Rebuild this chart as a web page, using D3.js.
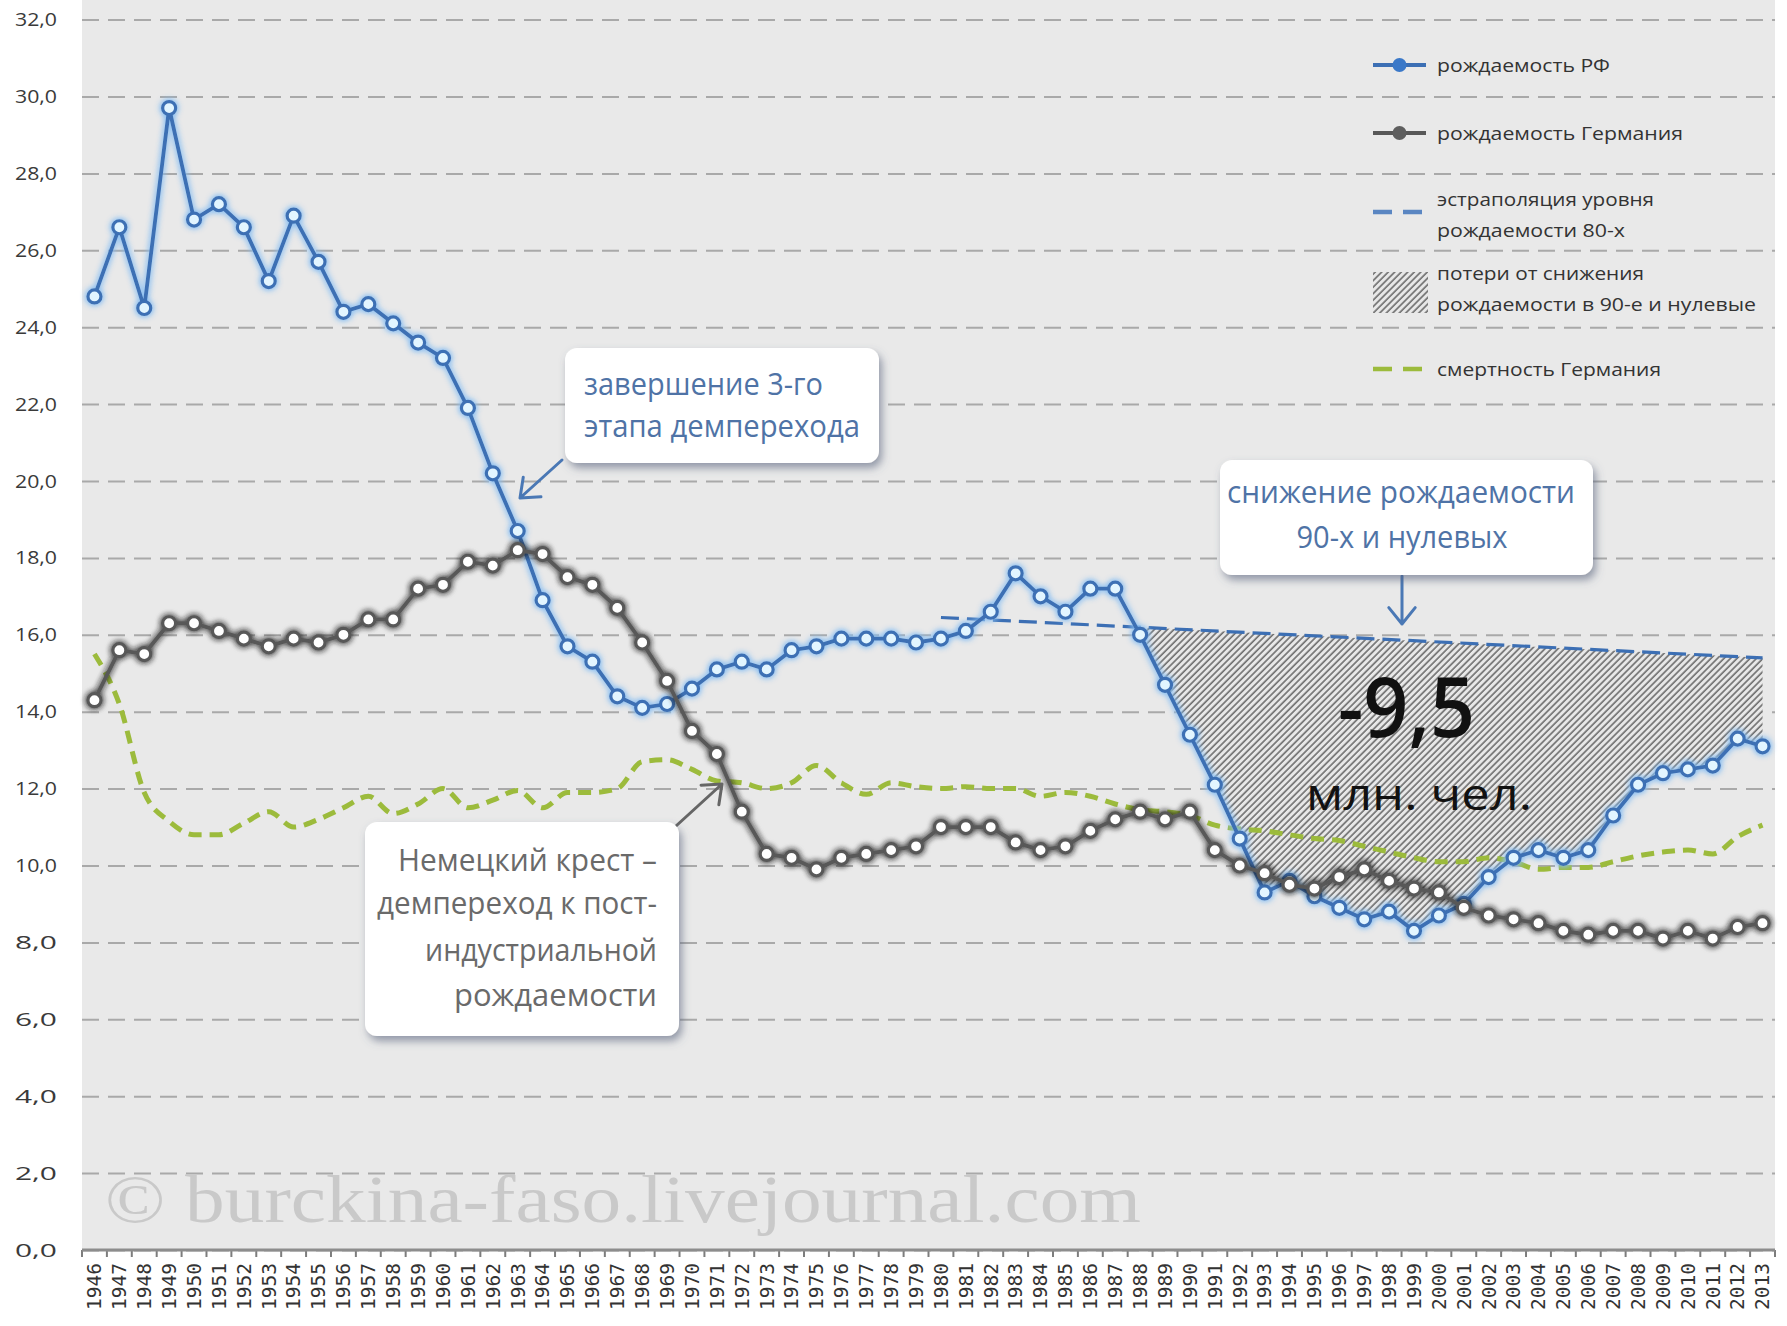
<!DOCTYPE html>
<html>
<head>
<meta charset="utf-8">
<script src="https://cdn.jsdelivr.net/npm/d3@7"></script>
<style>
  body { margin: 0; background: #fff; }
  svg { display: block; }
  text { font-family: "Open Sans", "Noto Sans", sans-serif; }
</style>
</head>
<body>
<div id="chart"></div>
<script>
const width = 1787;
const height = 1326;
const plotLeft = 82, plotRight = 1775, plotBottom = 1250, plotTop = 0;

// years on the x axis
const years = [1946, 1947, 1948, 1949, 1950, 1951, 1952, 1953, 1954, 1955,
  1956, 1957, 1958, 1959, 1960, 1961, 1962, 1963, 1964, 1965,
  1966, 1967, 1968, 1969, 1970, 1971, 1972, 1973, 1974, 1975,
  1976, 1977, 1978, 1979, 1980, 1981, 1982, 1983, 1984, 1985,
  1986, 1987, 1988, 1989, 1990, 1991, 1992, 1993, 1994, 1995,
  1996, 1997, 1998, 1999, 2000, 2001, 2002, 2003, 2004, 2005,
  2006, 2007, 2008, 2009, 2010, 2011, 2012, 2013];

// рождаемость РФ, per 1000
const birthRU = [24.8, 26.6, 24.5, 29.7, 26.8, 27.2, 26.6, 25.2, 26.9, 25.7,
  24.4, 24.6, 24.1, 23.6, 23.2, 21.9, 20.2, 18.7, 16.9, 15.7,
  15.3, 14.4, 14.1, 14.2, 14.6, 15.1, 15.3, 15.1, 15.6, 15.7,
  15.9, 15.9, 15.9, 15.8, 15.9, 16.1, 16.6, 17.6, 17.0, 16.6,
  17.2, 17.2, 16.0, 14.7, 13.4, 12.1, 10.7, 9.3, 9.6, 9.2,
  8.9, 8.6, 8.8, 8.3, 8.7, 9.0, 9.7, 10.2, 10.4, 10.2,
  10.4, 11.3, 12.1, 12.4, 12.5, 12.6, 13.3, 13.1];

// рождаемость Германия
const birthDE = [14.3, 15.6, 15.5, 16.3, 16.3, 16.1, 15.9, 15.7, 15.9, 15.8,
  16.0, 16.4, 16.4, 17.2, 17.3, 17.9, 17.8, 18.2, 18.1, 17.5,
  17.3, 16.7, 15.8, 14.8, 13.5, 12.9, 11.4, 10.3, 10.2, 9.9,
  10.2, 10.3, 10.4, 10.5, 11.0, 11.0, 11.0, 10.6, 10.4, 10.5,
  10.9, 11.2, 11.4, 11.2, 11.4, 10.4, 10.0, 9.8, 9.5, 9.4,
  9.7, 9.9, 9.6, 9.4, 9.3, 8.9, 8.7, 8.6, 8.5, 8.3,
  8.2, 8.3, 8.3, 8.1, 8.3, 8.1, 8.4, 8.5];

// смертность Германия
const deathDE = [15.5, 14.2, 11.9, 11.15, 10.8, 10.8, 11.1, 11.4, 11.0, 11.2,
  11.5, 11.8, 11.35, 11.6, 12.0, 11.5, 11.7, 11.95, 11.5, 11.9,
  11.9, 12.0, 12.7, 12.75, 12.5, 12.2, 12.15, 12.0, 12.15, 12.6,
  12.15, 11.85, 12.15, 12.05, 12.0, 12.05, 12.0, 12.0, 11.8, 11.9,
  11.8, 11.6, 11.45, 11.4, 11.3, 11.05, 10.95, 10.9, 10.8, 10.7,
  10.65, 10.5, 10.35, 10.2, 10.1, 10.1, 10.2, 10.1, 9.9, 9.95,
  9.95, 10.1, 10.25, 10.35, 10.4, 10.3, 10.75, 11.05];

// экстраполяция уровня рождаемости 80-х
const extrapYears = [1980, 2013];
const extrapValues = [16.45, 15.4];
const lossStartYear = 1988;

const yTicks = [0, 2, 4, 6, 8, 10, 12, 14, 16, 18, 20, 22, 24, 26, 28, 30, 32];

const blue = "#3c6fb4";
const gray = "#585858";
const green = "#9cbb3c";

const svg = d3.select("#chart").append("svg")
    .attr("width", width)
    .attr("height", height);

const defs = svg.append("defs");

function glow(id, color, std, opacity) {
    const f = defs.append("filter").attr("id", id)
        .attr("x", "-20%").attr("y", "-20%").attr("width", "140%").attr("height", "140%");
    f.append("feGaussianBlur").attr("in", "SourceAlpha").attr("stdDeviation", std).attr("result", "blur");
    f.append("feFlood").attr("flood-color", color).attr("flood-opacity", opacity);
    f.append("feComposite").attr("in2", "blur").attr("operator", "in").attr("result", "glow");
    const m = f.append("feMerge");
    m.append("feMergeNode").attr("in", "glow");
    m.append("feMergeNode").attr("in", "glow");
    m.append("feMergeNode").attr("in", "SourceGraphic");
}
glow("glowBlue", "#86bdf2", 3, 0.95);
glow("glowGray", "#222", 3, 0.7);

const shadow = defs.append("filter").attr("id", "boxShadow")
    .attr("x", "-10%").attr("y", "-10%").attr("width", "125%").attr("height", "130%");
shadow.append("feDropShadow").attr("dx", 3).attr("dy", 5).attr("stdDeviation", 4)
    .attr("flood-color", "#55607a").attr("flood-opacity", 0.6);

const hatch = defs.append("pattern").attr("id", "hatch")
    .attr("patternUnits", "userSpaceOnUse")
    .attr("width", 4.6).attr("height", 10)
    .attr("patternTransform", "rotate(45)");
hatch.append("rect").attr("width", 4.6).attr("height", 10).attr("fill", "#e8e8e8");
hatch.append("line").attr("x1", 1).attr("y1", 0).attr("x2", 1).attr("y2", 10)
    .attr("stroke", "#505050").attr("stroke-width", 1.3);

const x = d3.scaleBand().domain(years).range([plotLeft, plotRight]);
const cx = yr => x(yr) + x.bandwidth() / 2;
const y = d3.scaleLinear().domain([0, 32]).range([plotBottom, 19.6]);
const extrap = d3.scaleLinear().domain(extrapYears).range(extrapValues);

// plot background
svg.append("rect")
    .attr("x", plotLeft).attr("y", plotTop)
    .attr("width", plotRight - plotLeft).attr("height", plotBottom - plotTop)
    .attr("fill", "#e9e9e9");

// grid + y labels
const yAxis = svg.append("g")
    .attr("transform", `translate(${plotLeft},0)`)
    .call(d3.axisLeft(y).tickValues(yTicks)
        .tickSize(-(plotRight - plotLeft))
        .tickPadding(25)
        .tickFormat(d => d3.format(".1f")(d).replace(".", ",")));
yAxis.select(".domain").remove();
yAxis.selectAll(".tick line")
    .attr("stroke", "#a9a9a9")
    .attr("stroke-width", 2)
    .attr("stroke-dasharray", "17,9");
yAxis.selectAll(".tick text")
    .attr("font-size", 19)
    .attr("fill", "#3a3a3a")
    .attr("textLength", 42)
    .attr("lengthAdjust", "spacingAndGlyphs")
    .style("font-family", "'Open Sans','Noto Sans',sans-serif");

// watermark
svg.append("text")
    .attr("x", 105).attr("y", 1222)
    .attr("font-size", 68)
    .attr("fill", "#c9c9c9")
    .attr("textLength", 1036)
    .attr("lengthAdjust", "spacingAndGlyphs")
    .style("font-family", "'Liberation Serif','DejaVu Serif',serif")
    .text("© burckina-faso.livejournal.com");

// x axis
const xAxis = svg.append("g")
    .attr("transform", `translate(0,${plotBottom})`)
    .call(d3.axisBottom(x).tickSize(0).tickSizeOuter(0));
xAxis.select(".domain").remove();
xAxis.selectAll(".tick text")
    .attr("transform", "rotate(-90)")
    .attr("text-anchor", "end")
    .attr("x", -13).attr("y", 0).attr("dy", "0.36em")
    .attr("font-size", 19)
    .attr("fill", "#333")
    .attr("textLength", 47)
    .attr("lengthAdjust", "spacingAndGlyphs")
    .style("font-family", "'DejaVu Sans Mono',monospace");
svg.append("g").selectAll("line")
    .data(years.map(yr => x(yr)).concat([plotRight]))
    .enter().append("line")
    .attr("x1", d => d).attr("x2", d => d)
    .attr("y1", plotBottom).attr("y2", plotBottom + 7)
    .attr("stroke", "#7d7d7d").attr("stroke-width", 2);
svg.append("line")
    .attr("x1", plotLeft).attr("x2", plotRight)
    .attr("y1", plotBottom).attr("y2", plotBottom)
    .attr("stroke", "#8d8d8d").attr("stroke-width", 3);

// hatched loss area between extrapolation and actual births
const lossIdx = years.map((yr, i) => i).filter(i => years[i] >= lossStartYear);
const lastYear = years[years.length - 1];
const lossPts = lossIdx.map(i => [cx(years[i]), y(birthRU[i])])
    .concat([[cx(lastYear), y(extrap(lastYear))], [cx(lossStartYear), y(extrap(lossStartYear))]]);
svg.append("path")
    .attr("d", "M" + lossPts.map(p => p.join(",")).join("L") + "Z")
    .attr("fill", "url(#hatch)");

// mortality Germany
svg.append("path")
    .datum(deathDE)
    .attr("d", d3.line().x((d, i) => cx(years[i])).y(d => y(d)).curve(d3.curveMonotoneX))
    .attr("fill", "none")
    .attr("stroke", green)
    .attr("stroke-width", 5)
    .attr("stroke-dasharray", "13,8");

// extrapolation
svg.append("line")
    .attr("x1", cx(extrapYears[0])).attr("y1", y(extrapValues[0]))
    .attr("x2", cx(extrapYears[1])).attr("y2", y(extrapValues[1]))
    .attr("stroke", blue)
    .attr("stroke-width", 3.2)
    .attr("stroke-dasharray", "18,8");

const seriesLine = d3.line().x((d, i) => cx(years[i])).y(d => y(d));

// births Russia
const ru = svg.append("g").attr("filter", "url(#glowBlue)");
ru.append("path").datum(birthRU)
    .attr("d", seriesLine)
    .attr("fill", "none").attr("stroke", blue).attr("stroke-width", 3.8);
ru.selectAll("circle").data(birthRU).enter().append("circle")
    .attr("cx", (d, i) => cx(years[i])).attr("cy", d => y(d))
    .attr("r", 6.5)
    .attr("fill", "#e2f5ff").attr("stroke", blue).attr("stroke-width", 3.2);

// births Germany
const de = svg.append("g").attr("filter", "url(#glowGray)");
de.append("path").datum(birthDE)
    .attr("d", seriesLine)
    .attr("fill", "none").attr("stroke", gray).attr("stroke-width", 3.8);
de.selectAll("circle").data(birthDE).enter().append("circle")
    .attr("cx", (d, i) => cx(years[i])).attr("cy", d => y(d))
    .attr("r", 6.5)
    .attr("fill", "#ffffff").attr("stroke", gray).attr("stroke-width", 3.2);

// callouts
function callout(box, lines, opts) {
    const g = svg.append("g");
    g.append("rect")
        .attr("x", box.x).attr("y", box.y)
        .attr("width", box.w).attr("height", box.h)
        .attr("rx", 12).attr("fill", "#fff")
        .attr("filter", "url(#boxShadow)");
    lines.forEach(l => {
        g.append("text")
            .attr("x", l.x).attr("y", l.y)
            .attr("text-anchor", opts.anchor)
            .attr("font-size", opts.size)
            .attr("fill", opts.color)
            .attr("textLength", l.w)
            .attr("lengthAdjust", "spacingAndGlyphs")
            .text(l.t);
    });
}

function arrow(x1, y1, x2, y2, color) {
    const a = Math.atan2(y1 - y2, x1 - x2);
    const len = 21, spread = 0.68;
    const p = `M${x1},${y1}L${x2},${y2}` +
        `M${x2 + len * Math.cos(a - spread)},${y2 + len * Math.sin(a - spread)}L${x2},${y2}` +
        `L${x2 + len * Math.cos(a + spread)},${y2 + len * Math.sin(a + spread)}`;
    svg.append("path").attr("d", p)
        .attr("fill", "none").attr("stroke", color)
        .attr("stroke-width", 3).attr("stroke-linecap", "round").attr("stroke-linejoin", "round");
}

arrow(562, 460, 520, 498, "#4a78b5");
callout({x: 565, y: 348, w: 314, h: 115}, [
    {t: "завершение 3-го", x: 584, y: 395, w: 239},
    {t: "этапа демперехода", x: 584, y: 437, w: 276}
], {anchor: "start", size: 31, color: "#4f73a6"});

arrow(676, 826, 722, 784, "#666");
callout({x: 365, y: 822, w: 314, h: 214}, [
    {t: "Немецкий крест –", x: 657, y: 871, w: 259},
    {t: "демпереход к пост-", x: 657, y: 914, w: 280},
    {t: "индустриальной", x: 657, y: 961, w: 232},
    {t: "рождаемости", x: 657, y: 1006, w: 203}
], {anchor: "end", size: 31, color: "#6a6a6a"});

arrow(1402, 576, 1402, 624, "#4a78b5");
callout({x: 1220, y: 460, w: 373, h: 115}, [
    {t: "снижение рождаемости", x: 1401, y: 503, w: 348},
    {t: "90-х и нулевых", x: 1402, y: 548, w: 211}
], {anchor: "middle", size: 31, color: "#4f73a6"});

// loss figure
svg.append("text")
    .attr("x", 1338).attr("y", 737)
    .attr("font-size", 84).attr("font-weight", 600).attr("fill", "#111")
    .attr("textLength", 137).attr("lengthAdjust", "spacingAndGlyphs")
    .text("-9,5");
svg.append("text")
    .attr("x", 1306).attr("y", 810)
    .attr("font-size", 43).attr("fill", "#111")
    .attr("textLength", 226).attr("lengthAdjust", "spacingAndGlyphs")
    .text("млн. чел.");

// legend
const legend = svg.append("g");
const lx1 = 1373, lx2 = 1426, ltx = 1437;
function legendText(t, cy, w) {
    legend.append("text")
        .attr("x", ltx).attr("y", cy).attr("dy", "0.36em")
        .attr("font-size", 19).attr("fill", "#333")
        .attr("textLength", w).attr("lengthAdjust", "spacingAndGlyphs")
        .text(t);
}
[[65, blue, "#3a78c8"], [133, gray, "#5e5e5e"]].forEach(([cy, c, f]) => {
    legend.append("line").attr("x1", lx1).attr("x2", lx2).attr("y1", cy).attr("y2", cy)
        .attr("stroke", c).attr("stroke-width", 4);
    legend.append("circle").attr("cx", (lx1 + lx2) / 2).attr("cy", cy).attr("r", 7).attr("fill", f);
});
legendText("рождаемость РФ", 65, 173);
legendText("рождаемость Германия", 133, 246);

[[212, "#5a86c2"], [369, green]].forEach(([cy, c]) => {
    legend.append("line").attr("x1", lx1).attr("x2", lx2).attr("y1", cy).attr("y2", cy)
        .attr("stroke", c).attr("stroke-width", 4.5).attr("stroke-dasharray", "19,11");
});
legendText("эстраполяция уровня", 199, 217);
legendText("рождаемости 80-х", 230, 188);

legend.append("rect").attr("x", 1373).attr("y", 272).attr("width", 55).attr("height", 41)
    .attr("fill", "url(#hatch)");
legendText("потери от снижения", 273, 207);
legendText("рождаемости в 90-е и нулевые", 304, 319);

legendText("смертность Германия", 369, 224);
</script>
</body>
</html>
